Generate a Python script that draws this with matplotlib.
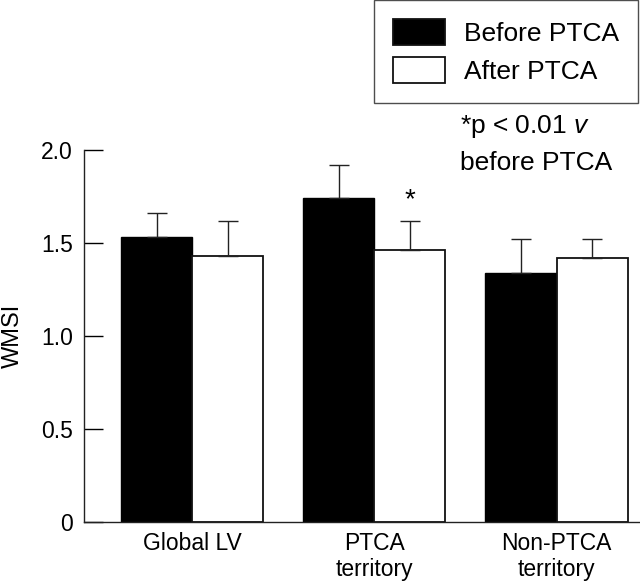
import matplotlib
matplotlib.use('Agg')
import matplotlib.pyplot as plt
import numpy as np

plt.rcParams['font.family'] = ['Liberation Sans', 'DejaVu Sans']
plt.rcParams['mathtext.fontset'] = 'custom'
plt.rcParams['mathtext.rm'] = 'Liberation Sans'
plt.rcParams['mathtext.it'] = 'Liberation Sans:italic'

# ─── 데이터 ─────────────────────────────
groups = ['Global LV', 'PTCA\nterritory', 'Non-PTCA\nterritory']
before = [1.53, 1.74, 1.34]
before_err = [0.13, 0.18, 0.18]
after = [1.43, 1.46, 1.42]
after_err = [0.19, 0.16, 0.10]
yticks = [0, 0.5, 1.0, 1.5, 2.0]
ytick_labels = ['0', '0.5', '1.0', '1.5', '2.0']

fig = plt.figure(figsize=(6.4, 5.83), dpi=100)
ax = fig.add_axes([84 / 640, 1 - 522 / 583, 1 - 84 / 640, (522 - 150) / 583])

x = np.arange(len(groups))
w = 0.39
err_kw = dict(ecolor='#222', elinewidth=1.0, capsize=7, capthick=1.0)
b1 = ax.bar(x - w / 2, before, w, color='black', edgecolor='black', linewidth=1.0,
            yerr=[np.zeros(3), before_err], error_kw=err_kw, zorder=2)
b2 = ax.bar(x + w / 2, after, w, color='white', edgecolor='#111', linewidth=1.3,
            yerr=[np.zeros(3), after_err], error_kw=err_kw, zorder=2)

# 유의 표시 (PTCA territory, after)
ax.text(1 + w / 2, after[1] + after_err[1] + 0.075, '*', ha='center', va='baseline',
        fontsize=20)

ax.set_xlim(-0.593, 2.458)
ax.set_ylim(0, 2.0)
ax.set_yticks(yticks)
ax.set_yticklabels(ytick_labels)
ax.set_xticks(x)
ax.set_xticklabels(groups)
ax.tick_params(axis='y', direction='in', length=13.5, width=1.0, pad=8, labelsize=16.5)
ax.tick_params(axis='x', length=0, pad=7, labelsize=16.5)
ax.set_ylabel('WMSI', fontsize=17, labelpad=12)
for s in ['top', 'right']:
    ax.spines[s].set_visible(False)
for s in ['left', 'bottom']:
    ax.spines[s].set_linewidth(1.0)
    ax.spines[s].set_color('#222')

leg = fig.legend([b1, b2], ['Before PTCA', 'After PTCA'],
                 loc='upper right', bbox_to_anchor=(638 / 640, 1.0),
                 fontsize=19, frameon=True, fancybox=False, edgecolor='#222',
                 handlelength=1.97, handleheight=1.15, handletextpad=0.72,
                 borderpad=0.72, labelspacing=0.4, borderaxespad=0)
leg.get_frame().set_linewidth(1.0)
for h in leg.legend_handles:
    h.set_edgecolor('#111')
    h.set_linewidth(1.3)

fig.text(460 / 640, 1 - 127 / 583, '*p < 0.01 $v$', ha='left', va='center', fontsize=19)
fig.text(460 / 640, 1 - 163 / 583, 'before PTCA', ha='left', va='center', fontsize=19)

fig.savefig('out.png', dpi=100)
